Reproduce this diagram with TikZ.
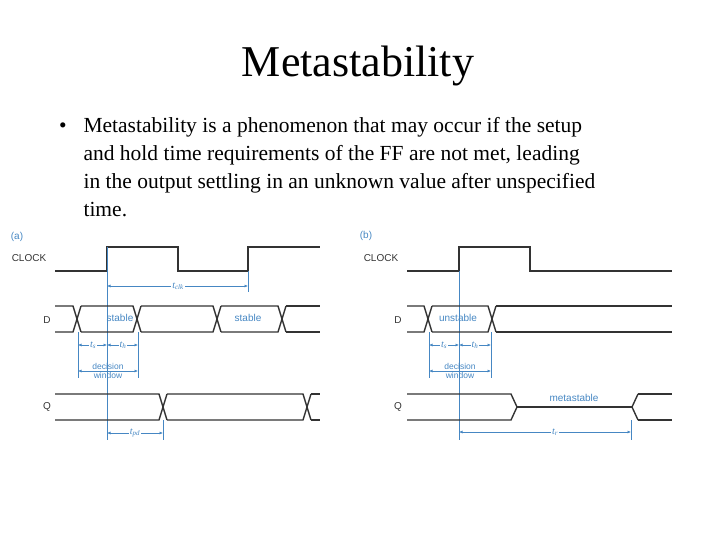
\documentclass[tikz,border=0pt]{standalone}
\usepackage{fontspec}
\setmainfont{Liberation Serif}
\setsansfont{Liberation Sans}
\usetikzlibrary{arrows.meta,positioning}
\definecolor{dimblue}{RGB}{70,135,195}
\tikzset{
  sig/.style={line width=1.4pt, black!80},
  dim/.style={dimblue, line width=0.6pt, {Latex[length=3.5pt,width=3pt]}-{Latex[length=3.5pt,width=3pt]}},
  guide/.style={dimblue, line width=0.7pt},
  lab/.style={font=\sffamily\fontsize{10}{10}\selectfont, black!80},
  blab/.style={font=\sffamily\fontsize{10}{10}\selectfont, dimblue, inner sep=1pt},
  tlab/.style={font=\itshape\fontsize{10}{10}\selectfont, dimblue, fill=white, inner sep=1pt}
}
% bus with crossings: start, list of crossings, top, bottom
\newcommand{\busline}[4]{%
  \gdef\prevx{#1-4}%
  \foreach \cx in {#2} {%
    \draw[sig] (\prevx+4,#3) -- (\cx-4,#3) -- (\cx,{(#3+#4)/2}) -- (\cx-4,#4) -- (\prevx+4,#4);
    \draw[sig] (\cx+4,#3) -- (\cx,{(#3+#4)/2}) -- (\cx+4,#4);
    \global\let\prevx\cx
  }%
}
\begin{document}
\begin{tikzpicture}[x=1pt,y=-1pt]
  \useasboundingbox (0,0) rectangle (720,539);

  % title and bullet
  \node (title) at (358,66) {\fontsize{44}{48}\selectfont Metastability};
  \node[anchor=north west, align=left, font=\fontsize{21.5}{28}\selectfont] (txt) at (80,114)
    {\llap{\textbullet\hspace{17pt}}Metastability is a phenomenon that may occur if the setup\\
     and hold time requirements of the FF are not met, leading\\
     in the output settling in an unknown value after unspecified\\
     time.};

  % ---------- panel (a)
  \node[lab, dimblue] (pa) at (17,237) {(a)};
  \node[lab] (clka) at (29,258) {CLOCK};
  \node[lab] (da) at (47,320) {D};
  \node[lab] (qa) at (47,407) {Q};
  \draw[sig] (55,271) -- (107,271) -- (107,247) -- (178,247) -- (178,271)
             -- (248,271) -- (248,247) -- (320,247);
  \draw[guide] (107,247) -- (107,440);
  \draw[guide] (248,271) -- (248,292);
  \draw[guide] (78,332) -- (78,378);
  \draw[guide] (138,332) -- (138,378);
  \draw[guide] (163,420) -- (163,440);
  \draw[dim] (107,286) -- (248,286);
  \node[tlab] (tclk) at (178,286) {t\textsubscript{clk}};

  \busline{55}{77,137,217,282}{306}{332}
  \draw[sig] (286,306) -- (320,306) (286,332) -- (320,332);
  \node[blab] (sta) at (120,318) {stable};
  \node[blab] (stb) at (248,318) {stable};

  \draw[dim] (78,345) -- (107,345);
  \draw[dim] (107,345) -- (138,345);
  \node[tlab] (tsa) at (93,345) {t\textsubscript{s}};
  \node[tlab] (tha) at (123,345) {t\textsubscript{h}};
  \draw[dim] (78,371) -- (138,371);
  \node[blab, align=center, font=\sffamily\fontsize{8.5}{9}\selectfont] (dwa) at (108,371) {decision\\window};

  \busline{55}{163,307}{394}{420}
  \draw[sig] (311,394) -- (320,394) (311,420) -- (320,420);
  \draw[dim] (107,433) -- (163,433);
  \node[tlab] (tpd) at (135,433) {t\textsubscript{pd}};

  % ---------- panel (b)
  \node[lab, dimblue] (pb) at (366,236) {(b)};
  \node[lab] (clkb) at (381,258) {CLOCK};
  \node[lab] (db) at (398,320) {D};
  \node[lab] (qb) at (398,407) {Q};
  \draw[sig] (407,271) -- (459,271) -- (459,247) -- (530,247) -- (530,271) -- (672,271);
  \draw[guide] (459,271) -- (459,440);
  \draw[guide] (429,332) -- (429,378);
  \draw[guide] (491,332) -- (491,378);
  \draw[guide] (631,420) -- (631,440);

  \busline{407}{428,492}{306}{332}
  \draw[sig] (496,306) -- (672,306) (496,332) -- (672,332);
  \node[blab] (unst) at (458,318) {unstable};

  \draw[dim] (429,345) -- (459,345);
  \draw[dim] (459,345) -- (491,345);
  \node[tlab] (tsb) at (444,345) {t\textsubscript{s}};
  \node[tlab] (thb) at (475,345) {t\textsubscript{h}};
  \draw[dim] (429,371) -- (491,371);
  \node[blab, align=center, font=\sffamily\fontsize{8.5}{9}\selectfont] (dwb) at (460,371) {decision\\window};

  \draw[sig] (407,394) -- (511,394) -- (517,407) -- (511,420) -- (407,420);
  \draw[sig] (517,407) -- (632,407);
  \draw[sig] (638,394) -- (632,407) -- (638,420);
  \draw[sig] (638,394) -- (672,394) (638,420) -- (672,420);
  \node[blab] (meta) at (574,398) {metastable};
  \draw[dim] (459,432) -- (631,432);
  \node[tlab] (tr) at (555,432) {t\textsubscript{r}};
\end{tikzpicture}
\end{document}
